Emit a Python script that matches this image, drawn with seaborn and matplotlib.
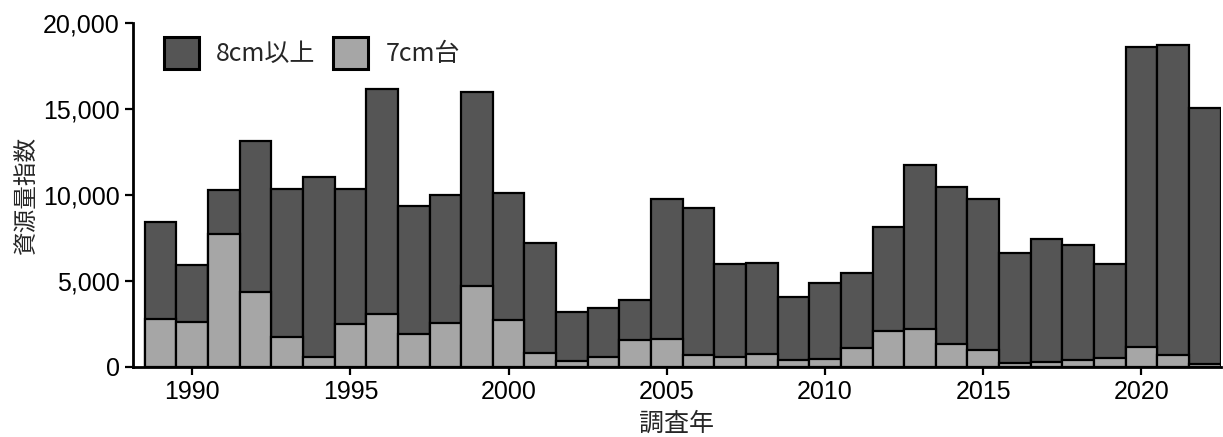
import matplotlib
matplotlib.use("Agg")
import matplotlib.pyplot as plt
from matplotlib.patches import Patch
from matplotlib.ticker import FuncFormatter
import pandas as pd
import seaborn as sns

# --- data ---
years = list(range(1989, 2023))
total = [8450, 5930, 10290, 13140, 10330, 11050, 10370, 16140, 9380, 10020,
         15990, 10140, 7190, 3220, 3410, 3900, 9770, 9220, 5990, 6030,
         4090, 4860, 5450, 8160, 11720, 10480, 9770, 6610, 7460, 7110,
         5970, 18620, 18720, 15040]
cm7 = [2790, 2600, 7730, 4340, 1730, 600, 2480, 3060, 1920, 2540,
       4730, 2730, 800, 370, 560, 1570, 1630, 700, 600, 760,
       410, 450, 1090, 2090, 2210, 1320, 990, 210, 310, 410,
       500, 1140, 700, 160]
cm8 = [t - s for t, s in zip(total, cm7)]
labels = ["8cm以上", "7cm台"]
colors = ["#555555", "#a6a6a6"]

df = pd.DataFrame({"year": years, "cm8": cm8, "cm7": cm7})
df["total"] = df["cm8"] + df["cm7"]

sns.set_theme(style="ticks")
plt.rcParams["font.family"] = ["Liberation Sans", "Noto Sans CJK JP", "DejaVu Sans"]

fig = plt.figure(figsize=(12.23, 4.37), dpi=100)
ax = fig.add_axes([0.1088, 0.1602, 0.8892, 0.7871])

# stacked: full-height dark bars, then the 7cm part drawn over the bottom
sns.barplot(data=df, x="year", y="total", native_scale=True, width=1.0,
            color=colors[0], saturation=1, edgecolor="black", linewidth=1.6, ax=ax)
sns.barplot(data=df, x="year", y="cm7", native_scale=True, width=1.0,
            color=colors[1], saturation=1, edgecolor="black", linewidth=1.6, ax=ax)

ax.set_xlim(1988.13, 2022.5)
ax.set_ylim(0, 20000)
ax.set_xticks(range(1990, 2021, 5))
ax.set_yticks(range(0, 20001, 5000))
ax.yaxis.set_major_formatter(FuncFormatter(lambda v, p: f"{int(v):,}"))
ax.tick_params(labelsize=18, length=6, width=1.6, colors="black")
for s in ["left", "bottom"]:
    ax.spines[s].set_linewidth(2)
    ax.spines[s].set_color("black")
sns.despine(ax=ax)

ax.set_xlabel("調査年", fontsize=18, family=["Noto Sans CJK JP"], labelpad=5)
ax.set_ylabel("資源量指数", fontsize=17, family=["Noto Sans CJK JP"], labelpad=4)

handles = [Patch(facecolor=c, edgecolor="black", linewidth=2.2) for c in colors]
ax.legend(handles, labels, loc="upper left", bbox_to_anchor=(0.012, 1.01), ncol=2,
          frameon=False, prop={"family": ["Noto Sans CJK JP"], "size": 18},
          handlelength=1.4, handleheight=1.6, handletextpad=0.7, columnspacing=0.7,
          borderaxespad=0.3)

fig.savefig("out.png", dpi=100)
